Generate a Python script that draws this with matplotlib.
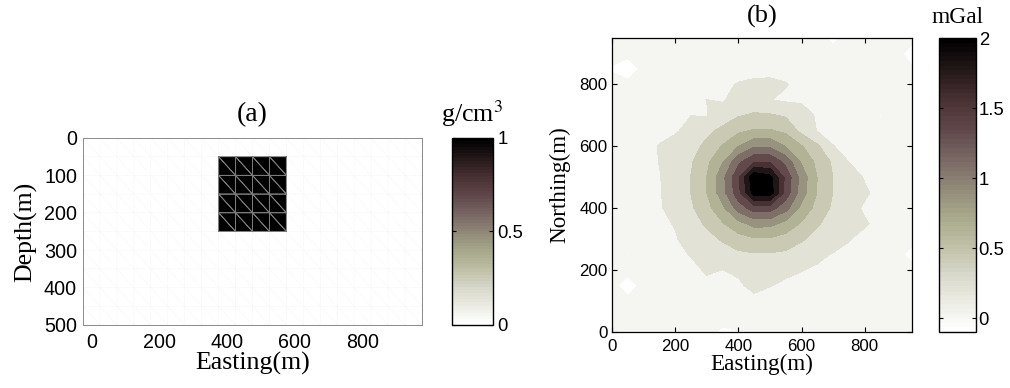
import numpy as np
import matplotlib
matplotlib.use('Agg')
import matplotlib.pyplot as plt
from matplotlib.colors import LinearSegmentedColormap, Normalize
from matplotlib.cm import ScalarMappable
from matplotlib.ticker import FormatStrFormatter
from matplotlib.tri import Triangulation

plt.rcParams['font.family'] = ['Liberation Sans', 'DejaVu Sans']
plt.rcParams['font.size'] = 12.5
plt.rcParams['mathtext.fontset'] = 'stix'
SERIF = ['Liberation Serif', 'DejaVu Serif']

# ---- (a) density model: 50 m cells, one dense block ----
mesh_x = np.arange(-25, 976, 50)      # cell edges, easting
mesh_z = np.arange(0, 501, 50)        # cell edges, depth
block_x = [375, 575]
block_z = [50, 250]
block_rho = 1.0                        # g/cm^3

# ---- (b) observed gravity, 50 m grid (mGal), rows = northing ----
grid_e = np.arange(0, 951, 50)
grid_n = np.arange(0, 951, 50)
gz = [
    [0.07, 0.07, 0.07, 0.075, 0.075, 0.08, 0.08, -0.05, -0.01, 0.08, 0.08, 0.08, 0.08, 0.08, 0.075, 0.075, 0.07, 0.07, 0.07, 0.07],
    [0.07, 0.08, 0.08, 0.085, 0.09, 0.095, 0.10, 0.10, 0.105, 0.105, 0.105, 0.10, 0.10, 0.095, 0.09, 0.085, 0.08, 0.08, 0.07, 0.07],
    [0.07, 0.075, 0.08, 0.08, 0.085, 0.10, 0.11, 0.12, 0.13, 0.15, 0.14, 0.13, 0.12, 0.11, 0.10, 0.085, 0.08, 0.075, 0.07, 0.07],
    [0.07, -0.12, 0.08, 0.09, 0.105, 0.12, 0.16, 0.15, 0.17, 0.25, 0.205, 0.175, 0.16, 0.14, 0.12, 0.105, 0.09, 0.08, 0.075, 0.07],
    [0.07, 0.08, 0.09, 0.105, 0.125, 0.155, 0.22, 0.198, 0.23, 0.27, 0.27, 0.23, 0.205, 0.18, 0.155, 0.125, 0.105, 0.085, 0.08, 0.07],
    [0.07, -0.01, 0.095, 0.12, 0.155, 0.21, 0.23, 0.32, 0.375, 0.40, 0.40, 0.375, 0.32, 0.23, 0.19, 0.155, 0.12, 0.10, 0.085, -0.08],
    [0.07, 0.09, 0.11, 0.145, 0.185, 0.27, 0.35, 0.45, 0.56, 0.62, 0.62, 0.56, 0.45, 0.34, 0.27, 0.21, 0.145, 0.11, 0.09, 0.075],
    [0.07, 0.095, 0.125, 0.165, 0.21, 0.33, 0.46, 0.63, 0.80, 0.95, 0.94, 0.80, 0.625, 0.45, 0.33, 0.21, 0.22, 0.15, 0.095, 0.08],
    [0.075, 0.10, 0.135, 0.18, 0.27, 0.39, 0.575, 0.82, 1.20, 1.43, 1.42, 1.18, 0.81, 0.57, 0.385, 0.27, 0.175, 0.135, 0.10, 0.08],
    [0.075, 0.105, 0.14, 0.185, 0.30, 0.43, 0.65, 1.005, 1.475, 2.12, 2.15, 1.46, 0.98, 0.64, 0.42, 0.30, 0.23, 0.14, 0.105, 0.085],
    [0.075, 0.105, 0.145, 0.19, 0.30, 0.43, 0.655, 1.03, 1.51, 2.20, 2.08, 1.49, 1.005, 0.645, 0.42, 0.30, 0.185, 0.14, 0.105, 0.085],
    [0.075, 0.10, 0.135, 0.205, 0.27, 0.40, 0.60, 0.86, 1.27, 1.54, 1.535, 1.255, 0.85, 0.59, 0.39, 0.198, 0.15, 0.135, 0.10, 0.085],
    [0.07, 0.095, 0.12, 0.21, 0.30, 0.34, 0.48, 0.67, 0.87, 1.07, 1.06, 0.865, 0.67, 0.465, 0.205, 0.15, 0.14, 0.125, 0.095, 0.08],
    [0.07, 0.09, 0.115, 0.15, 0.17, 0.29, 0.375, 0.48, 0.61, 0.675, 0.675, 0.605, 0.365, 0.19, 0.15, 0.13, 0.125, 0.115, 0.09, 0.08],
    [0.07, 0.085, 0.10, -0.01, 0.165, 0.197, 0.19, 0.31, 0.41, 0.45, 0.45, 0.40, 0.31, 0.17, 0.15, 0.13, 0.12, -0.01, 0.085, 0.075],
    [0.07, 0.08, 0.095, 0.11, 0.135, 0.165, 0.202, 0.18, 0.29, 0.31, 0.205, 0.17, 0.165, 0.14, 0.13, 0.12, 0.105, 0.09, 0.08, 0.075],
    [0.07, 0.075, 0.085, 0.095, 0.11, 0.13, 0.155, 0.17, 0.21, 0.225, 0.23, 0.21, 0.15, 0.14, 0.13, 0.11, 0.09, 0.08, 0.075, 0.07],
    [-0.02, -0.15, 0.07, 0.08, 0.09, 0.105, 0.115, 0.13, 0.14, 0.16, 0.16, 0.14, 0.13, 0.115, 0.105, 0.09, 0.08, 0.075, 0.075, 0.03],
    [0.07, 0.07, 0.075, 0.08, 0.085, 0.09, 0.095, 0.10, 0.105, 0.11, 0.11, 0.105, 0.10, 0.095, 0.09, 0.085, 0.08, 0.075, 0.07, -0.10],
    [0.07, 0.07, 0.07, 0.075, 0.08, 0.08, 0.085, 0.085, 0.09, 0.09, 0.09, 0.09, 0.09, 0.085, -0.06, 0.08, 0.075, 0.07, 0.07, 0.07],
]
gz_levels = [-0.3, 0.0, 0.2, 0.425, 0.65, 0.875, 1.1, 1.325, 1.55, 1.775, 2.0, 2.5]

# colormap: white -> khaki -> brownish red -> black
cmap = LinearSegmentedColormap.from_list('geo', [
    (0.00, '#ffffff'), (0.10, '#ebebe3'), (0.20, '#d6d6c8'), (0.30, '#bdbda3'),
    (0.40, '#a6a68a'), (0.50, '#8e8676'), (0.60, '#776462'), (0.70, '#5e4547'),
    (0.78, '#4d3436'), (0.88, '#2a1c1d'), (1.00, '#000000')], N=64)

fig = plt.figure(figsize=(10.1, 3.88), dpi=100)
ax_a = fig.add_axes([0.0822, 0.1624, 0.3356, 0.482])
cax_a = fig.add_axes([0.4475, 0.1624, 0.0406, 0.482])
ax_b = fig.add_axes([0.606, 0.1443, 0.297, 0.7577])
cax_b = fig.add_axes([0.9297, 0.1443, 0.0366, 0.7577])

# ---- panel (a) ----
X, Z = np.meshgrid(mesh_x, mesh_z)
nx = len(mesh_x)
tris, rho, blk = [], [], []
for j in range(len(mesh_z) - 1):
    for i in range(nx - 1):
        n00 = j * nx + i
        n10 = n00 + 1
        n01 = n00 + nx
        n11 = n01 + 1
        xc = 0.5 * (mesh_x[i] + mesh_x[i + 1])
        zc = 0.5 * (mesh_z[j] + mesh_z[j + 1])
        inside = block_x[0] < xc < block_x[1] and block_z[0] < zc < block_z[1]
        for t in ([n00, n11, n01], [n00, n10, n11]):
            tris.append(t)
            rho.append(block_rho if inside else 0.0)
            if inside:
                blk.append(t)
tri = Triangulation(X.ravel(), Z.ravel(), tris)
ax_a.tripcolor(tri, facecolors=np.array(rho), cmap=cmap, vmin=0, vmax=1, edgecolors='none')
ax_a.triplot(tri, color='#f7f7f5', lw=0.4)
tri_blk = Triangulation(X.ravel(), Z.ravel(), blk)
ax_a.triplot(tri_blk, color='#7a7a7a', lw=0.7)
ax_a.set_xlim(-25, 975)
ax_a.set_ylim(500, 0)
ax_a.set_xticks([0, 200, 400, 600, 800])
ax_a.set_yticks([0, 100, 200, 300, 400, 500])
ax_a.tick_params(length=0, pad=6, labelsize=14.2)
ax_a.tick_params(axis='y', pad=4.3)
for s in ax_a.spines.values():
    s.set_color('#8a8a8a')
    s.set_linewidth(0.7)
ax_a.set_xlabel('Easting(m)', family=SERIF, fontsize=18.6, labelpad=0)
ax_a.set_ylabel('Depth(m)', family=SERIF, fontsize=18.6, labelpad=5)
ax_a.set_title('(a)', family=SERIF, fontsize=20, pad=12)

cb_a = fig.colorbar(ScalarMappable(Normalize(0, 1), cmap), cax=cax_a, ticks=[0, 0.5, 1])
cb_a.ax.yaxis.set_major_formatter(FormatStrFormatter('%g'))
cb_a.outline.set_linewidth(1.0)
cax_a.tick_params(direction='in', length=3, left=True, right=True, labelleft=False,
                  labelright=True, pad=3, labelsize=13.3)
cax_a.set_title('g/cm$^3$', family=SERIF, fontsize=18.7, pad=11.7)

# ---- panel (b) ----
gz_arr = np.array(gz)
norm_b = Normalize(-0.1, 2.0)
band_cols = [cmap(norm_b(max(lv, -0.1))) for lv in gz_levels[:-1]]
ax_b.contourf(grid_e, grid_n, gz_arr, levels=gz_levels, colors=band_cols, antialiased=False)
ax_b.set_xlim(0, 950)
ax_b.set_ylim(0, 950)
ax_b.set_xticks([0, 200, 400, 600, 800])
ax_b.set_yticks([0, 200, 400, 600, 800])
ax_b.tick_params(direction='in', length=3.5, top=True, right=True, pad=4.7, labelsize=12.2)
ax_b.tick_params(axis='y', pad=3.4)
for s in ax_b.spines.values():
    s.set_linewidth(0.9)
ax_b.set_xlabel('Easting(m)', family=SERIF, fontsize=16.7, labelpad=0)
ax_b.set_ylabel('Northing(m)', family=SERIF, fontsize=16.7, labelpad=6)
ax_b.set_title('(b)', family=SERIF, fontsize=19, pad=11)

cb_b = fig.colorbar(ScalarMappable(norm_b, cmap), cax=cax_b, ticks=[0, 0.5, 1, 1.5, 2])
cb_b.ax.yaxis.set_major_formatter(FormatStrFormatter('%g'))
cb_b.outline.set_linewidth(1.0)
cax_b.tick_params(direction='in', length=3, left=True, right=True, labelleft=False,
                  labelright=True, pad=2, labelsize=13.3)
cax_b.set_title('mGal', family=SERIF, fontsize=16.8, pad=10.6)

fig.savefig('out.png', dpi=100)
